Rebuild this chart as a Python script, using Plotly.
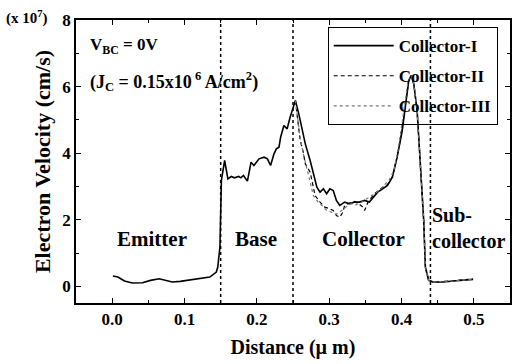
import plotly.graph_objects as go

# Position along the device (um)
dist_1 = [0.001, 0.008, 0.017, 0.028, 0.042, 0.053, 0.065, 0.074, 0.083, 0.094, 0.108, 0.119,
          0.135, 0.144, 0.146, 0.149, 0.151, 0.1555, 0.160, 0.1646, 0.169, 0.175, 0.178, 0.1815,
          0.187, 0.192, 0.196, 0.203, 0.210, 0.2146, 0.219, 0.2237, 0.227, 0.2306, 0.2329,
          0.2374, 0.2419, 0.246, 0.249, 0.2533, 0.258, 0.262, 0.267, 0.2737, 0.278, 0.283,
          0.2874, 0.292, 0.2965, 0.301, 0.3056, 0.310, 0.3147, 0.3214, 0.328, 0.335, 0.342,
          0.349, 0.3556, 0.3624, 0.367, 0.374, 0.3806, 0.3874, 0.394, 0.401, 0.4056, 0.410,
          0.4134, 0.417, 0.4216, 0.425, 0.428, 0.4307, 0.433, 0.4375, 0.444, 0.458, 0.4716,
          0.485, 0.499]
# Electron velocity (x 1e7 cm/s), Collector-I
vel_1 = [0.31, 0.28, 0.16, 0.10, 0.11, 0.18, 0.23, 0.18, 0.13, 0.15, 0.20, 0.23,
         0.28, 0.43, 0.58, 1.18, 3.18, 3.78, 3.23, 3.30, 3.26, 3.30, 3.26, 3.33,
         3.16, 3.73, 3.63, 3.83, 3.88, 3.83, 3.63, 3.98, 4.13, 4.18, 4.48,
         4.83, 4.73, 5.08, 5.28, 5.58, 5.18, 4.78, 4.28, 3.78, 3.38, 2.98,
         2.83, 2.93, 2.78, 2.93, 2.88, 2.58, 2.43, 2.53, 2.48, 2.53, 2.53,
         2.58, 2.53, 2.73, 2.83, 2.93, 3.03, 3.28, 3.88, 4.68, 5.48, 6.18,
         6.33, 6.08, 5.28, 3.98, 2.68, 1.98, 0.58, 0.18, 0.13, 0.13, 0.16,
         0.18, 0.21]

# Collector-II differs from Collector-I only inside the collector
dist_2 = [0.2533, 0.256, 0.260, 0.264, 0.267, 0.2737, 0.2805, 0.2874, 0.294, 0.301, 0.3056,
          0.310, 0.3147, 0.319, 0.3214, 0.328, 0.335, 0.341, 0.3465, 0.349, 0.354, 0.3624,
          0.367, 0.374, 0.3806, 0.3874, 0.394, 0.401, 0.4056, 0.410, 0.4134, 0.417, 0.4216,
          0.425, 0.428, 0.4307, 0.433, 0.4375, 0.444, 0.458, 0.4716, 0.485, 0.499]
vel_2 = [5.58, 5.05, 4.38, 4.05, 3.68, 3.43, 2.73, 2.53, 2.38, 2.33, 2.28,
         2.13, 2.08, 2.23, 2.43, 2.50, 2.55, 2.48, 2.38, 2.28, 2.55, 2.78,
         2.85, 2.98, 3.05, 3.30, 3.90, 4.70, 5.50, 6.20,
         6.33, 6.08, 5.28, 3.98, 2.68, 1.98, 0.58, 0.18, 0.12, 0.14, 0.17,
         0.18, 0.22]

# Collector-III
dist_3 = [0.2533, 0.256, 0.260, 0.264, 0.268, 0.273, 0.278, 0.284, 0.290, 0.2965, 0.303,
          0.308, 0.313, 0.318, 0.324, 0.330, 0.337, 0.344, 0.350, 0.357, 0.364, 0.370,
          0.377, 0.383, 0.389, 0.395, 0.400, 0.405, 0.409, 0.4134, 0.417, 0.4216,
          0.425, 0.428, 0.4307, 0.433, 0.4375, 0.444, 0.458, 0.4716, 0.485, 0.499]
vel_3 = [5.58, 5.10, 4.45, 4.00, 3.60, 3.20, 2.73, 2.55, 2.43, 2.28, 2.23,
         2.16, 2.20, 2.30, 2.40, 2.48, 2.45, 2.52, 2.60, 2.70, 2.80, 2.90,
         3.05, 3.20, 3.45, 4.05, 4.80, 5.60, 6.15,
         6.33, 6.08, 5.28, 3.98, 2.68, 1.98, 0.58, 0.18, 0.13, 0.14, 0.16,
         0.19, 0.21]

# Layer boundaries (um)
boundaries = [0.15, 0.25, 0.44]

FONT = "Liberation Serif, Times New Roman, serif"

fig = go.Figure()
fig.add_trace(go.Scatter(x=dist_1, y=vel_1, mode="lines", name="<b>Collector-I</b>",
                         legendgroup="a", line=dict(color="black", width=1.6)))
fig.add_trace(go.Scatter(x=dist_2, y=vel_2, mode="lines", name="<b>Collector-II</b>",
                         legendgroup="b", line=dict(color="black", width=1.2, dash="4px,3px")))
fig.add_trace(go.Scatter(x=dist_3, y=vel_3, mode="lines", name="<b>Collector-III</b>",
                         legendgroup="c", line=dict(color="#777777", width=1.2, dash="dot")))

for b in boundaries:
    fig.add_vline(x=b, line=dict(color="black", width=1.5, dash="dot"))

ann_font = dict(family=FONT, size=21, color="black")
fig.add_annotation(x=0.055, y=1.41, text="<b>Emitter</b>", showarrow=False, font=ann_font)
fig.add_annotation(x=0.199, y=1.41, text="<b>Base</b>", showarrow=False, font=ann_font)
fig.add_annotation(x=0.347, y=1.41, text="<b>Collector</b>", showarrow=False, font=ann_font)
fig.add_annotation(x=0.439, y=1.75, text="<b>Sub-<br>collector</b>", showarrow=False,
                   xanchor="left", align="left", font=dict(family=FONT, size=20, color="black"))
fig.add_annotation(x=-0.033, y=7.23, text="<b>V<sub>BC</sub> = 0V</b>", showarrow=False,
                   xanchor="left", font=dict(family=FONT, size=17, color="black"))
fig.add_annotation(x=-0.033, y=6.15,
                   text="<b>(J<sub>C</sub> = 0.15x10<sup> 6</sup> A/cm<sup>2</sup>)</b>",
                   showarrow=False, xanchor="left", font=dict(family=FONT, size=18, color="black"))
fig.add_annotation(xref="paper", yref="paper", x=-0.165, y=1.05, xanchor="left",
                   text="<b>(x 10<sup>7</sup>)</b>", showarrow=False,
                   font=dict(family=FONT, size=15, color="black"))

axis_common = dict(showline=True, linecolor="black", linewidth=1.5, mirror="ticks",
                   ticks="inside", ticklen=5, tickwidth=1, tickcolor="black",
                   showgrid=False, zeroline=False,
                   tickfont=dict(family=FONT, size=17, color="black"))

fig.update_xaxes(range=[-0.05, 0.55], tickvals=[0.0, 0.1, 0.2, 0.3, 0.4, 0.5],
                 ticktext=["<b>0.0</b>", "<b>0.1</b>", "<b>0.2</b>", "<b>0.3</b>", "<b>0.4</b>", "<b>0.5</b>"],
                 minor=dict(dtick=0.05, ticks="inside", ticklen=3, tickcolor="black"),
                 title=dict(text="<b>Distance (\u00b5 m)</b>", font=dict(family=FONT, size=20, color="black"),
                            standoff=12),
                 **axis_common)
fig.update_yaxes(range=[-0.5, 8], tickvals=[0, 2, 4, 6, 8],
                 ticktext=["<b>0</b>", "<b>2</b>", "<b>4</b>", "<b>6</b>", "<b>8</b>"],
                 minor=dict(dtick=1, ticks="inside", ticklen=3, tickcolor="black"),
                 title=dict(text="<b>Electron Velocity (cm/s)</b>",
                            font=dict(family=FONT, size=22, color="black"), standoff=6),
                 **axis_common)

fig.update_layout(
    width=518, height=364,
    margin=dict(l=76, r=6, t=20, b=61),
    plot_bgcolor="white", paper_bgcolor="white",
    showlegend=True,
    legend=dict(x=0.58, y=0.975, xanchor="left", yanchor="top",
                bordercolor="black", borderwidth=1, bgcolor="rgba(0,0,0,0)",
                font=dict(family=FONT, size=17, color="black"),
                tracegroupgap=5, itemwidth=60),
)

fig.write_html("out.html")
